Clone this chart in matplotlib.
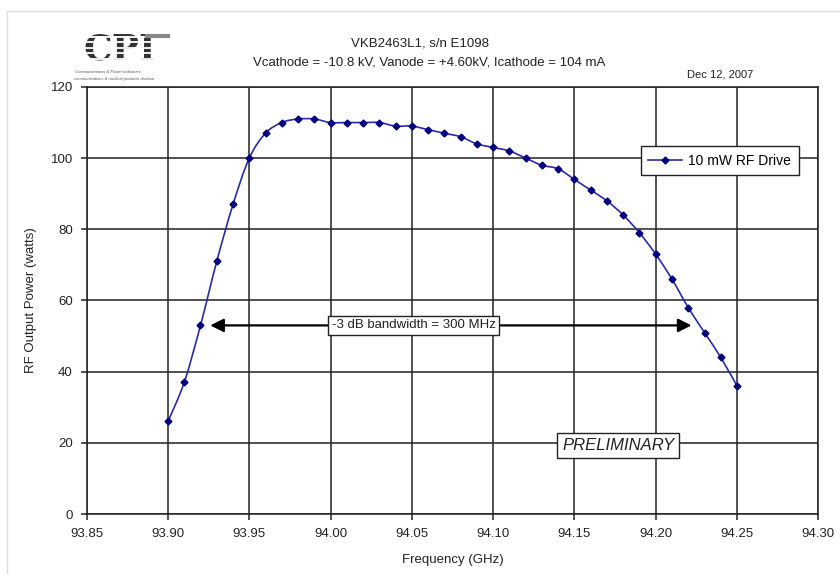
import matplotlib.pyplot as plt
from matplotlib.lines import Line2D
from matplotlib.path import Path
from matplotlib.patches import PathPatch

plt.rcParams["font.family"] = ["Liberation Sans", "DejaVu Sans"]

freq = [93.90, 93.91, 93.92, 93.93, 93.94, 93.95, 93.96, 93.97, 93.98, 93.99,
        94.00, 94.01, 94.02, 94.03, 94.04, 94.05, 94.06, 94.07, 94.08, 94.09,
        94.10, 94.11, 94.12, 94.13, 94.14, 94.15, 94.16, 94.17, 94.18, 94.19,
        94.20, 94.21, 94.22, 94.23, 94.24, 94.25]
power = [26, 37, 53, 71, 87, 100, 107, 110, 111, 111,
         110, 110, 110, 110, 109, 109, 108, 107, 106, 104,
         103, 102, 100, 98, 97, 94, 91, 88, 84, 79,
         73, 66, 58, 51, 44, 36]
x_ticks = [93.85, 93.90, 93.95, 94.00, 94.05, 94.10, 94.15, 94.20, 94.25, 94.30]
y_ticks = [0, 20, 40, 60, 80, 100, 120]

LINE = "#2a2aa8"
MARK = "#000080"
INK = "#222222"


def smooth_path(xs, ys):
    # Excel-style smoothed line: Catmull-Rom segments as cubic Beziers
    verts = [(xs[0], ys[0])]
    codes = [Path.MOVETO]
    n = len(xs)
    for i in range(n - 1):
        x0, y0 = (xs[i - 1], ys[i - 1]) if i > 0 else (xs[i], ys[i])
        x1, y1 = xs[i], ys[i]
        x2, y2 = xs[i + 1], ys[i + 1]
        x3, y3 = (xs[i + 2], ys[i + 2]) if i + 2 < n else (x2, y2)
        verts += [(x1 + (x2 - x0) / 6, y1 + (y2 - y0) / 6),
                  (x2 - (x3 - x1) / 6, y2 - (y3 - y1) / 6),
                  (x2, y2)]
        codes += [Path.CURVE4] * 3
    return Path(verts, codes)


fig = plt.figure(figsize=(8.4, 5.74), dpi=100)
ax = fig.add_axes([0.1032, 0.1045, 0.871, 0.744])

ax.add_patch(PathPatch(smooth_path(freq, power), fc="none", ec=LINE, lw=1.2,
                       zorder=3))
ax.plot(freq, power, ls="none", marker="D", markersize=3.5,
        markerfacecolor=MARK, markeredgecolor=MARK, zorder=4)
handle = Line2D([], [], color=LINE, lw=1.2, marker="D", markersize=3.5,
                markerfacecolor=MARK, markeredgecolor=MARK)

ax.set_xlim(93.85, 94.30)
ax.set_ylim(0, 120)
ax.set_xticks(x_ticks)
ax.set_xticklabels([f"{t:.2f}" for t in x_ticks])
ax.set_yticks(y_ticks)
ax.grid(True, color=INK, lw=1.1)
for s in ax.spines.values():
    s.set_color(INK)
    s.set_linewidth(1.1)
ax.tick_params(labelsize=9.5, length=4, width=1.1, color=INK,
               labelcolor=INK, pad=6)
ax.set_xlabel("Frequency (GHz)", fontsize=9.5, color=INK, labelpad=10)
ax.set_ylabel("RF Output Power (watts)", fontsize=9.5, color=INK, labelpad=10)

leg = ax.legend([handle], ["10 mW RF Drive"], loc="upper right",
                bbox_to_anchor=(0.9736, 0.862), fontsize=10,
                fancybox=False, framealpha=1, edgecolor=INK,
                handlelength=2.4, borderpad=0.55, handletextpad=0.5,
                borderaxespad=0)
leg.get_frame().set_linewidth(1.0)

# -3 dB bandwidth arrow
ax.annotate("", xy=(93.926, 53), xytext=(94.222, 53),
            arrowprops=dict(arrowstyle="<|-|>", color="black", lw=1.6,
                            mutation_scale=20, shrinkA=0, shrinkB=0), zorder=4)
ax.text(94.051, 53, "-3 dB bandwidth = 300 MHz", ha="center", va="center",
        fontsize=9.5, color=INK, zorder=5,
        bbox=dict(boxstyle="square,pad=0.25", fc="white", ec=INK, lw=1.0))

ax.text(94.177, 19.3, "PRELIMINARY", ha="center", va="center", fontsize=12,
        style="italic", color=INK, zorder=5,
        bbox=dict(boxstyle="square,pad=0.3", fc="white", ec=INK, lw=1.0))

# titles
fig.text(0.5, 0.925, "VKB2463L1, s/n E1098", ha="center", va="center",
         fontsize=9.5, color=INK)
fig.text(0.511, 0.891, "Vcathode = -10.8 kV, Vanode = +4.60kV, Icathode = 104 mA",
         ha="center", va="center", fontsize=9.5, color=INK)
fig.text(0.857, 0.871, "Dec 12, 2007", ha="center", va="center",
         fontsize=8, color=INK)

# CPI logo
fig.text(0.143, 0.914, "CPI", ha="center", va="center", fontsize=26,
         family="DejaVu Serif", weight="bold", color="#333333", zorder=3)
for k in range(6):
    yy = 0.945 - k * 0.0095
    fig.add_artist(Line2D([0.075, 0.205], [yy, yy], color="white", lw=1.3,
                          transform=fig.transFigure, zorder=6))
fig.add_artist(Line2D([0.175, 0.2], [0.938, 0.938], color="#888888", lw=3,
                      transform=fig.transFigure, zorder=7))
fig.text(0.128, 0.874, "Communications & Power Industries", ha="center",
         va="center", fontsize=3, style="italic", color="#555555")
fig.text(0.136, 0.863, "communications & medical products division", ha="center",
         va="center", fontsize=3, style="italic", color="#555555")

# page frame
fig.add_artist(Line2D([0.008, 1.0], [0.981, 0.981], color="#dddddd", lw=1,
                      transform=fig.transFigure))
fig.add_artist(Line2D([0.008, 0.008], [0.0, 0.981], color="#dddddd", lw=1,
                      transform=fig.transFigure))

fig.savefig("out.png", dpi=100)
